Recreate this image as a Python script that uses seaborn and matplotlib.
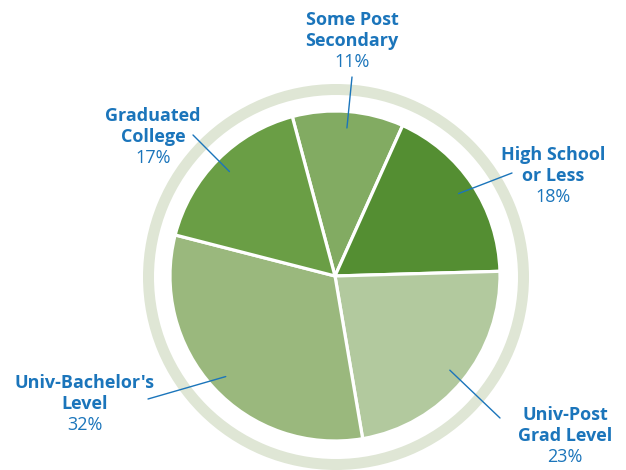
import matplotlib
matplotlib.use("Agg")
import numpy as np
import matplotlib.pyplot as plt
import seaborn as sns

# data
categories = ["Some Post\nSecondary", "High School\nor Less", "Univ-Post\nGrad Level",
              "Univ-Bachelor's\nLevel", "Graduated\nCollege"]
shares = [11, 18, 23, 32, 17]
slice_colors = ["#82ab62", "#548e32", "#b2c99e", "#9ab87d", "#6a9e45"]

# label layout (pixel coords, y from top)
label_x = [352, 553, 565, 85, 153]
label_top = [25, 160, 420, 388, 121]
leader_end = [(352, 77), (512, 173), (500, 418), (148, 399), (193, 135)]

W, H = 626, 470
BLUE = "#1b75bb"
RING = "#dfe6d5"


def fy(y):
    return H - y


def main():
    sns.set_theme(style="white")
    plt.rcParams["font.family"] = ["Open Sans", "DejaVu Sans"]

    fig = plt.figure(figsize=(W / 100, H / 100), dpi=100)
    ax = fig.add_axes([0, 0, 1, 1])

    cx, cy, r = 335, fy(276), 165

    # outer ring
    ax.pie([1], colors=[RING], radius=193, center=(336, fy(277)),
           wedgeprops=dict(width=11, linewidth=0), frame=True)

    wedges, _ = ax.pie(shares, colors=slice_colors, radius=r, center=(cx, cy),
                       startangle=105, counterclock=False,
                       wedgeprops=dict(edgecolor="white", linewidth=2.3), frame=True)
    ax.set_xlim(0, W)
    ax.set_ylim(0, H)
    ax.set_aspect("equal")
    ax.axis("off")

    for w, name, val, lx, ly, end in zip(wedges, categories, shares, label_x, label_top, leader_end):
        mid = np.deg2rad((w.theta1 + w.theta2) / 2)
        px = cx + 0.9 * r * np.cos(mid)
        py = cy + 0.9 * r * np.sin(mid)
        ax.plot([px, end[0]], [py, fy(end[1])], color=BLUE, lw=1.0)

        lines = name.split("\n")
        for i, ln in enumerate(lines):
            ax.text(lx, fy(ly + 21 * i), ln, ha="center", va="baseline",
                    fontsize=13, fontweight="bold", color=BLUE)
        ax.text(lx, fy(ly + 21 * len(lines)), f"{val}%", ha="center", va="baseline",
                fontsize=13, color=BLUE)

    fig.savefig("out.png", dpi=100)


if __name__ == "__main__":
    main()
